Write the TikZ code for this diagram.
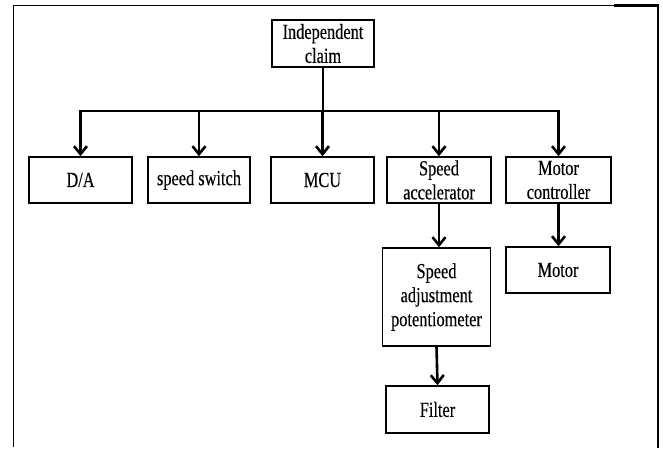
\documentclass[tikz,border=0pt]{standalone}
\usepackage{fontspec}
\setmainfont[FakeStretch=0.76,FakeBold=0.25]{Liberation Serif}
\usetikzlibrary{arrows.meta}

\tikzset{
  box/.style={draw, line width=1.6pt, inner sep=0pt, align=center,
    font=\fontsize{21.5}{24}\selectfont, minimum height=46pt},
  link/.style={line width=2.6pt},
  arr/.style={line width=2.6pt, -{Straight Barb[length=8pt,width=13pt]}},
  frameline/.style={line width=1pt},
  framethick/.style={line width=2.4pt},
}

\begin{document}
\begin{tikzpicture}[x=1pt,y=-1pt]
\useasboundingbox (0,0) rectangle (663,448);

% page frame
\draw[frameline] (13.5,447) -- (13.5,5) -- (615,5);
\draw[framethick] (614,5.5) -- (658,5.5) -- (658,448);

% root
\node[box, minimum width=102pt, minimum height=47pt] (claim) at (323,43.5) {Independent\\claim};

% first level
\node[box, minimum width=103pt] (da)  at (80.5,180) {D/A};
\node[box, minimum width=102pt] (sw)  at (199,180)  {speed switch};
\node[box, minimum width=103pt] (mcu) at (322.5,180) {MCU};
\node[box, minimum width=104pt] (acc) at (439,180)  {Speed\\accelerator};
\node[box, minimum width=105pt] (mc)  at (558.5,180) {Motor\\controller};

% lower levels
\node[box, minimum width=108pt, minimum height=98pt] (adj) at (436.5,297) {Speed\\adjustment\\potentiometer};
\node[box, minimum width=104pt] (motor)  at (558,270)   {Motor};
\node[box, minimum width=103pt, minimum height=47pt] (filter) at (437.5,409.5) {Filter};

% distribution bus
\coordinate (bus) at (323,111);
\draw[link] (claim.south) -- (bus);
\draw[link, line cap=rect] (da.north |- bus) -- (mc.north |- bus);
\foreach \n in {da,sw,mcu,acc,mc}
  \draw[arr] (\n.north |- bus) -- (\n.north);

% chains below
\draw[arr] (acc.south) -- (acc.south |- adj.north);
\draw[arr] (adj.south) -- (filter.north);
\draw[arr] (mc.south) -- (mc.south |- motor.north);
\end{tikzpicture}
\end{document}
